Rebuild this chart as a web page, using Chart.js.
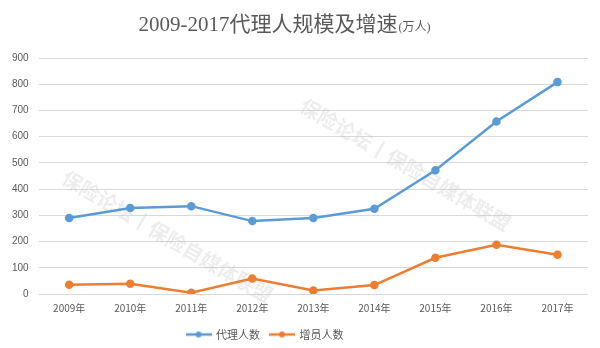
<!DOCTYPE html>
<html>
<head>
<meta charset="utf-8">
<script src="https://cdn.jsdelivr.net/npm/chart.js@4/dist/chart.umd.min.js"></script>
<style>
  html, body { margin: 0; padding: 0; background: #fff; }
  #wrap { width: 600px; height: 348px; }
</style>
</head>
<body>
<div id="wrap"><canvas id="agents"></canvas></div>
<script>
const years = ['2009年', '2010年', '2011年', '2012年', '2013年', '2014年', '2015年', '2016年', '2017年']
const agentCount = [290, 328, 335, 278, 290, 325, 472, 658, 808]
const newAgents = [35, 39, 5, 59, 13, 34, 138, 188, 150]
const yTicks = [0, 100, 200, 300, 400, 500, 600, 700, 800, 900]

const titleMain = '2009-2017代理人规模及增速'
const titleUnit = '(万人)'
const watermark = '保险论坛丨保险自媒体联盟'

// legend marker: short line with a dot in the middle
function lineMarker(color) {
  const c = document.createElement('canvas')
  c.width = 26
  c.height = 8
  const g = c.getContext('2d')
  g.strokeStyle = color
  g.lineWidth = 2.5
  g.beginPath()
  g.moveTo(0, 4)
  g.lineTo(26, 4)
  g.stroke()
  g.fillStyle = color
  g.beginPath()
  g.arc(13, 4, 3, 0, Math.PI * 2)
  g.fill()
  return c
}

// title with a smaller unit suffix, plus the faint diagonal watermark
const decorations = {
  id: 'decorations',
  afterLayout(chart) {
    // legend sits a little left of centre and lower down
    chart.legend.left -= 30
    chart.legend.right -= 30
    chart.legend.top += 5
    chart.legend.bottom += 5
  },
  beforeDatasetsDraw(chart) {
    const ctx = chart.ctx
    ctx.save()
    ctx.fillStyle = 'rgba(195,195,195,0.3)'
    ctx.font = 'bold 20px "Noto Sans CJK SC"'
    ctx.textBaseline = 'middle'
    ;[[64, 176], [302, 104]].forEach(p => {
      ctx.save()
      ctx.translate(p[0], p[1])
      ctx.rotate(0.53)
      ctx.fillText(watermark, 0, 0)
      ctx.restore()
    })
    ctx.restore()
  },
  afterDraw(chart) {
    const ctx = chart.ctx
    ctx.save()
    ctx.fillStyle = '#595959'
    ctx.textBaseline = 'alphabetic'
    ctx.font = '21px "Liberation Serif", "Noto Sans CJK SC"'
    const w1 = ctx.measureText(titleMain).width
    ctx.font = '12px "Liberation Serif", "Noto Sans CJK SC"'
    const w2 = ctx.measureText(titleUnit).width
    const x = 284 - (w1 + w2) / 2
    ctx.font = '21px "Liberation Serif", "Noto Sans CJK SC"'
    ctx.fillText(titleMain, x, 31)
    ctx.font = '12px "Liberation Serif", "Noto Sans CJK SC"'
    ctx.fillText(titleUnit, x + w1 + 1, 31)
    ctx.restore()
  }
}

const colors = ['#5B9BD5', '#ED7D31']

new Chart('agents', {
  type: 'line',
  data: {
    labels: years,
    datasets: [{
      label: '代理人数',
      data: agentCount,
      borderColor: colors[0],
      backgroundColor: colors[0],
      borderWidth: 2.5,
      pointRadius: 3,
      pointHoverRadius: 3,
      tension: 0
    }, {
      label: '增员人数',
      data: newAgents,
      borderColor: colors[1],
      backgroundColor: colors[1],
      borderWidth: 2.5,
      pointRadius: 3,
      pointHoverRadius: 3,
      tension: 0
    }]
  },
  options: {
    responsive: true,
    maintainAspectRatio: false,
    animation: false,
    layout: {
      padding: { top: 58, left: 2, right: 12, bottom: 3 }
    },
    scales: {
      x: {
        offset: true,
        grid: { display: false },
        border: { display: false },
        ticks: {
          color: '#595959',
          font: { size: 10, family: '"Noto Sans CJK SC", "Liberation Sans"' },
          maxRotation: 0,
          padding: 0
        }
      },
      y: {
        min: 0,
        max: 900,
        afterBuildTicks: axis => { axis.ticks = yTicks.map(v => ({ value: v })) },
        grid: { color: '#d9d9d9', lineWidth: 1, drawTicks: false },
        border: { display: false },
        ticks: {
          color: '#595959',
          font: { size: 10, family: '"Liberation Sans", "Noto Sans"' },
          padding: 10
        }
      }
    },
    plugins: {
      title: { display: false },
      tooltip: { enabled: false },
      legend: {
        position: 'bottom',
        labels: {
          color: '#595959',
          font: { size: 11, family: '"Noto Sans CJK SC"' },
          usePointStyle: true,
          pointStyleWidth: 24,
          padding: 10,
          generateLabels: chart => chart.data.datasets.map((ds, i) => ({
            text: ds.label,
            pointStyle: lineMarker(colors[i]),
            fontColor: '#595959',
            strokeStyle: colors[i],
            fillStyle: colors[i],
            lineWidth: 0,
            hidden: false,
            datasetIndex: i
          }))
        }
      }
    }
  },
  plugins: [decorations]
})
</script>
</body>
</html>
